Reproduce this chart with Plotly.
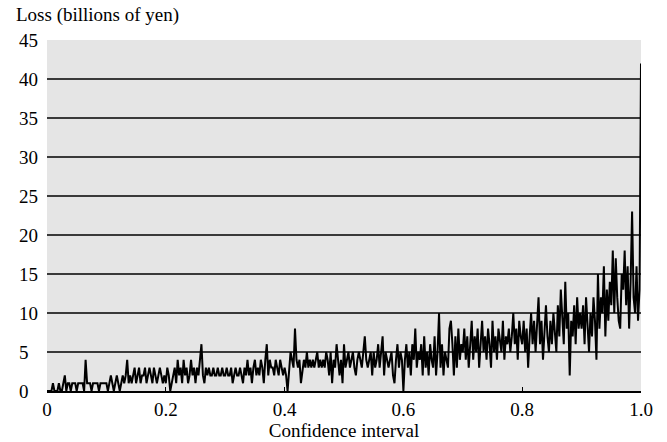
import plotly.graph_objects as go

loss_00 = [0,0,0,0,1,0,0,0,1,0, 0,1,2,0,1,1,0,1,1,1, 0,1,1,1,1,0,4,1,1,1, 0,1,1,1,1,0,1,1,1,1]
loss_01 = [1,0,1,2,1,0,1,2,1,0, 1,2,1,2,4,1,2,1,2,3, 1,2,3,1,2,2,3,1,2,3, 2,1,3,2,1,2,3,2,1,2]
loss_02 = [1,3,2,0,1,2,3,1,4,2, 3,1,4,2,3,1,2,4,2,3, 1,3,2,4,6,2,1,3,2,3, 2,2,3,2,2,3,2,2,3,2]
loss_03 = [2,3,2,2,3,1,2,3,2,2, 3,2,1,3,2,4,2,3,1,3, 4,2,3,2,4,3,1,4,6,2, 4,3,3,2,4,3,2,4,3,2]
loss_04 = [3,2,0,3,5,4,3,8,4,3, 4,1,3,4,3,5,3,4,3,4, 3,4,5,3,4,3,4,3,5,4, 2,5,1,4,3,6,4,2,4,1]
loss_05 = [6,3,4,5,3,4,5,3,2,4, 5,4,3,5,7,4,3,4,5,2, 5,3,4,6,3,5,7,2,5,4, 3,4,5,2,1,4,6,3,5,4]
loss_06 = [0,4,6,3,5,2,6,4,8,3, 5,4,6,2,7,3,5,2,6,4, 3,7,2,5,10,3,6,2,5,4, 3,8,9,6,2,7,3,8,4,6]
loss_07 = [5,8,4,7,3,6,9,4,7,5, 8,3,6,9,5,7,4,8,6,3, 9,5,7,4,8,6,5,9,4,7, 6,8,5,7,10,6,8,4,9,7]
loss_08 = [6,9,5,8,3,7,10,6,9,5, 8,12,6,9,4,8,11,7,5,9, 6,10,8,5,11,7,13,9,6,14, 8,10,2,9,7,11,6,12,8,10]
loss_09 = [8,11,6,12,9,5,10,7,12,9, 4,15,8,12,10,16,7,13,9,14, 11,18,10,17,12,9,8,15,13,18, 11,16,8,14,23,12,10,16,9,13]

# extreme tail, very close to 1.0
tail_conf = [0.998, 0.9985, 0.999, 0.9993, 0.9996, 0.9998, 1.0]
tail_loss = [18, 25, 34, 26, 30, 33, 42]

conf_step = 0.0025
segments = [loss_00, loss_01, loss_02, loss_03, loss_04,
            loss_05, loss_06, loss_07, loss_08, loss_09]
loss = [v for seg in segments for v in seg]
conf = [round(i * conf_step, 4) for i in range(len(loss))]
conf += tail_conf
loss += tail_loss

x_ticks = [0, 0.2, 0.4, 0.6, 0.8, 1.0]
x_ticktext = ["0", "0.2", "0.4", "0.6", "0.8", "1.0"]
y_ticks = [0, 5, 10, 15, 20, 25, 30, 35, 40, 45]
y_ticktext = ["0\u2007", "5\u2007", "10", "15", "20", "25", "30", "35", "40", "45"]

FONT = "Liberation Serif"

fig = go.Figure()
fig.add_trace(go.Scatter(x=conf, y=loss, mode="lines",
                         line=dict(color="black", width=2),
                         showlegend=False, hoverinfo="skip"))

fig.update_layout(
    width=667, height=442,
    margin=dict(l=47, r=26, t=40, b=51, autoexpand=False),
    paper_bgcolor="white",
    plot_bgcolor="#e5e5e5",
    font=dict(family=FONT, size=19, color="black"),
    title=dict(text="Loss (billions of yen)", x=16/667, xanchor="left",
               xref="container", y=1 - 14/442, yanchor="middle", yref="container",
               font=dict(family=FONT, size=19, color="black")),
    xaxis=dict(range=[0, 1], tickvals=x_ticks, ticktext=x_ticktext,
               showgrid=False, zeroline=False, automargin=False,
               showline=True, linecolor="black", linewidth=2,
               ticks="inside", ticklen=4, tickcolor="black", tickwidth=1,
               title=dict(text="Confidence interval", standoff=0,
                          font=dict(family=FONT, size=19)),
               tickfont=dict(family=FONT, size=19)),
    yaxis=dict(range=[0, 45], tickvals=y_ticks, ticktext=y_ticktext,
               showgrid=True, gridcolor="#3a3a3a", gridwidth=1.5,
               zeroline=False, showline=False, ticks="", automargin=False,
               ticklabelstandoff=8,
               tickfont=dict(family=FONT, size=19)),
)

fig.write_html("out.html",
               config={"displayModeBar": False},
               post_script="document.body.style.margin='0';document.body.style.overflow='hidden';")
